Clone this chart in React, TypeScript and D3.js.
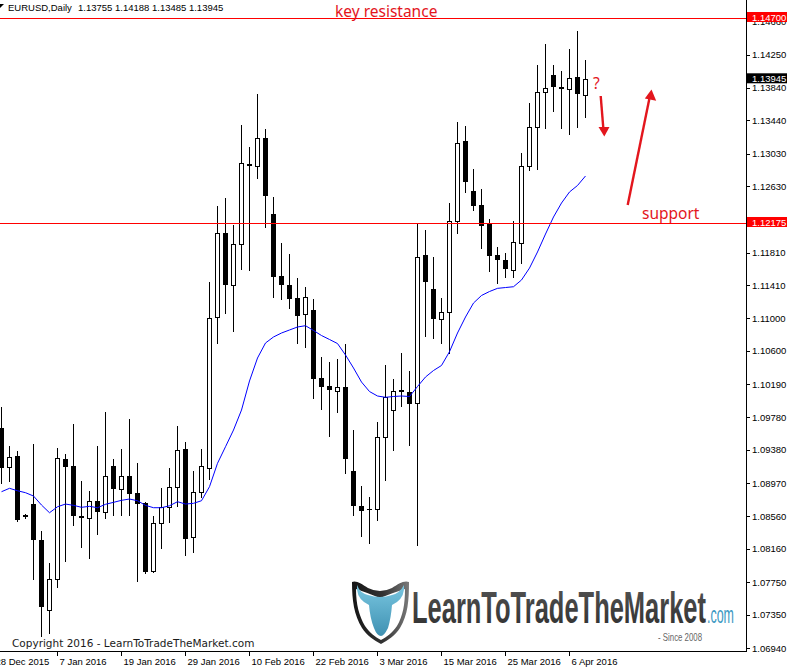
import React, { useLayoutEffect, useRef, useState } from 'react';
import * as d3 from 'd3';

// ---- data (EURUSD daily) ----
const opens = [
  1.09650, 1.09173, 1.09305, 1.08578, 1.08713, 1.08270, 1.07408, 1.07790, 1.09268, 1.09182,
  1.08566, 1.08541, 1.08750, 1.08615, 1.09182, 1.08898, 1.09058, 1.08849, 1.08726, 1.07888,
  1.08479, 1.08677, 1.08923, 1.09391, 1.08307, 1.08861, 1.09157, 1.11017, 1.12052, 1.11411,
  1.11916, 1.12902, 1.12877, 1.13222, 1.12286, 1.11522, 1.11411, 1.11251, 1.11054, 1.11103,
  1.10266, 1.10167, 1.10105, 1.10155, 1.09120, 1.08689, 1.08652, 1.08652, 1.09539, 1.09871,
  1.10118, 1.10093, 1.09958, 1.11781, 1.11362, 1.10992, 1.11079, 1.12199, 1.13185, 1.12569,
  1.12397, 1.12163, 1.11781, 1.11719, 1.11596, 1.11928, 1.12877, 1.13357, 1.13788, 1.13998,
  1.13850, 1.13825, 1.13973, 1.13755,
];
const highs = [
  1.09908, 1.09428, 1.09366, 1.08590, 1.09453, 1.08381, 1.07987, 1.09403, 1.09329, 1.09699,
  1.08997, 1.08874, 1.09428, 1.09847, 1.09268, 1.09391, 1.09760, 1.09219, 1.08738, 1.08566,
  1.08911, 1.09157, 1.09674, 1.09477, 1.09120, 1.09391, 1.11448, 1.12384, 1.12483, 1.12150,
  1.13382, 1.13111, 1.13764, 1.13333, 1.12495, 1.11928, 1.11793, 1.11497, 1.11386, 1.11239,
  1.10524, 1.10463, 1.10500, 1.10684, 1.09625, 1.08935, 1.08800, 1.09724, 1.10426, 1.10253,
  1.10573, 1.10352, 1.12175, 1.12089, 1.11756, 1.11251, 1.12421, 1.13419, 1.13370, 1.12840,
  1.12594, 1.12224, 1.11879, 1.11805, 1.12199, 1.13037, 1.13653, 1.14121, 1.14380, 1.14121,
  1.14047, 1.14318, 1.14540, 1.14188,
];
const lows = [
  1.08972, 1.09000, 1.08504, 1.08541, 1.07790, 1.07088, 1.07124, 1.07691, 1.08011, 1.08455,
  1.08184, 1.08048, 1.08344, 1.08541, 1.08578, 1.08578, 1.08578, 1.07765, 1.07864, 1.07876,
  1.08171, 1.08492, 1.08689, 1.08085, 1.08122, 1.08800, 1.09021, 1.10697, 1.11066, 1.10844,
  1.11608, 1.11596, 1.12729, 1.12126, 1.11263, 1.11239, 1.11128, 1.10697, 1.10647, 1.10019,
  1.09884, 1.09551, 1.09847, 1.09095, 1.08578, 1.08319, 1.08233, 1.08516, 1.09009, 1.09379,
  1.09921, 1.09440, 1.08208, 1.10783, 1.10758, 1.10697, 1.10573, 1.12052, 1.12557, 1.12335,
  1.11867, 1.11584, 1.11436, 1.11510, 1.11510, 1.11682, 1.12828, 1.12840, 1.13345, 1.13554,
  1.13345, 1.13271, 1.13357, 1.13485,
];
const closes = [
  1.09157, 1.09296, 1.08516, 1.08553, 1.08270, 1.07445, 1.07790, 1.09280, 1.09169, 1.08566,
  1.08541, 1.08750, 1.08615, 1.09058, 1.08898, 1.09058, 1.08837, 1.08713, 1.07876, 1.08479,
  1.08677, 1.08923, 1.09379, 1.08282, 1.08861, 1.09182, 1.11005, 1.12052, 1.11411, 1.11916,
  1.12914, 1.12877, 1.13222, 1.12507, 1.11510, 1.11411, 1.11239, 1.11029, 1.11263, 1.10253,
  1.10155, 1.10118, 1.10155, 1.09268, 1.08689, 1.08627, 1.08646, 1.09539, 1.10032, 1.10105,
  1.10093, 1.09945, 1.11756, 1.11448, 1.10992, 1.11079, 1.12199, 1.13160, 1.12680, 1.12384,
  1.12138, 1.11768, 1.11719, 1.11608, 1.11941, 1.12877, 1.13357, 1.13788, 1.13838, 1.13850,
  1.13825, 1.13961, 1.13764, 1.13945,
];
const movingAverage = [
  1.08865, 1.08907, 1.08877, 1.08853, 1.08812, 1.08701, 1.08606, 1.08680, 1.08713, 1.08697,
  1.08673, 1.08685, 1.08668, 1.08710, 1.08734, 1.08759, 1.08775, 1.08754, 1.08697, 1.08668,
  1.08668, 1.08692, 1.08742, 1.08713, 1.08722, 1.08754, 1.08927, 1.09215, 1.09419, 1.09625,
  1.09871, 1.10229, 1.10512, 1.10697, 1.10771, 1.10820, 1.10857, 1.10894, 1.10910, 1.10851,
  1.10789, 1.10740, 1.10690, 1.10549, 1.10389, 1.10216, 1.10099, 1.10044, 1.10028, 1.10038,
  1.10044, 1.10038, 1.10161, 1.10278, 1.10358, 1.10420, 1.10590, 1.10820, 1.11017, 1.11189,
  1.11282, 1.11331, 1.11370, 1.11380, 1.11390, 1.11473, 1.11620, 1.11818, 1.12039, 1.12249,
  1.12421, 1.12557, 1.12637, 1.12754,
];
const priceTicks = [
  1.14660, 1.14250, 1.13840, 1.13440, 1.13030, 1.12630, 1.12220, 1.11810, 1.11410, 1.11000,
  1.10600, 1.10190, 1.09780, 1.09380, 1.08970, 1.08560, 1.08160, 1.07750, 1.07350, 1.06940,
];
const dateLabels = [
  '28 Dec 2015', '7 Jan 2016', '19 Jan 2016', '29 Jan 2016', '10 Feb 2016',
  '22 Feb 2016', '3 Mar 2016', '15 Mar 2016', '25 Mar 2016', '6 Apr 2016',
];
const dateBarIndex = [-1, 7, 15, 23, 31, 39, 47, 55, 63, 71];
const resistanceLevel = 1.147;
const supportLevel = 1.12175;
const lastPrice = 1.13945;
const titleSymbol = 'EURUSD,Daily';
const titleValues = '1.13755 1.14188 1.13485 1.13945';

const AXIS_FONT = "'Liberation Sans', Arial, sans-serif";
const NOTE_FONT = "'Noto Sans', 'Open Sans', sans-serif";
const RED = '#e3161d';

type FitProps = {
  x: number;
  y: number;
  width: number;
  fontSize: number;
  fill: string;
  fontWeight?: string | number;
  fontFamily: string;
  children: string;
};

function FitText({ x, y, width, fontSize, fill, fontWeight, fontFamily, children }: FitProps) {
  const ref = useRef<SVGTextElement>(null);
  const [s, setS] = useState(0.6);
  useLayoutEffect(() => {
    if (ref.current) {
      const w = ref.current.getComputedTextLength();
      if (w > 0) setS(width / w);
    }
  }, [width, children]);
  return (
    <text
      ref={ref}
      x={0}
      y={0}
      transform={`translate(${x},${y}) scale(${s},1)`}
      fontSize={fontSize}
      fontFamily={fontFamily}
      fontWeight={fontWeight}
      fill={fill}
    >
      {children}
    </text>
  );
}

function Logo() {
  return (
    <g>
      <defs>
        <linearGradient id="shieldG" x1="0" x2="1" y1="0" y2="0">
          <stop offset="0" stopColor="#151515" />
          <stop offset="0.55" stopColor="#333" />
          <stop offset="1" stopColor="#7a7a7a" />
        </linearGradient>
        <linearGradient id="headG" x1="0" x2="0" y1="0" y2="1">
          <stop offset="0" stopColor="#79c6e0" />
          <stop offset="1" stopColor="#3f91b2" />
        </linearGradient>
        <linearGradient id="txtG" x1="0" x2="0" y1="0" y2="1">
          <stop offset="0" stopColor="#555" />
          <stop offset="1" stopColor="#2e2e2e" />
        </linearGradient>
      </defs>
      <path
        d="M352,582 C356,580 362,584 368,588 Q380,594 392,588 C398,584 404,580 409,582 C409,600 408,615 400,628 C395,636 388,640 381,644 C374,640 367,636 362,628 C354,615 352,600 352,582 Z"
        fill="url(#shieldG)"
      />
      <path
        d="M356,589 Q368,593 380,598 Q392,593 405,589 C405,604 403,616 397,626 C392,633 387,637 381,640 C375,637 370,633 365,626 C359,616 356,604 356,589 Z"
        fill="#fff"
      />
      <path
        d="M357,585 Q360,593 368,595 Q380,599 392,595 Q400,593 404,585 Q405,596 397,602 L392,605 Q391,618 388,628 Q384,636 381,636 Q377,636 374,628 Q370,618 369,605 L364,602 Q356,596 357,585 Z"
        fill="url(#headG)"
      />
      <FitText
        x={412}
        y={623}
        width={294}
        fontSize={44}
        fontWeight="bold"
        fontFamily="'Liberation Sans', Arial, sans-serif"
        fill="url(#txtG)"
      >
        LearnToTradeTheMarket
      </FitText>
      <FitText
        x={707}
        y={623}
        width={27}
        fontSize={24}
        fontFamily="'Liberation Sans', Arial, sans-serif"
        fill="#3a98c2"
      >
        .com
      </FitText>
      <FitText
        x={658}
        y={641}
        width={44}
        fontSize={10.5}
        fontFamily="'Liberation Sans', Arial, sans-serif"
        fill="#666"
      >
        - Since 2008
      </FitText>
    </g>
  );
}

export default function App() {
  const plotRight = 746;
  const plotBottom = 651;
  const n = opens.length;
  const x = d3.scaleLinear().domain([0, n - 1]).range([1.5, 585.5]);
  const y = d3.scaleLinear().domain([1.0694, 1.147]).range([648, 18]);
  const py = (v: number) => Math.round(y(v));

  const maPath =
    d3
      .line<number>()
      .x((_, i) => x(i))
      .y((v) => y(v))(movingAverage) || '';

  const candles = opens.map((o, i) => {
    const c = closes[i];
    const cx = x(i);
    const yH = py(highs[i]);
    const yL = py(lows[i]);
    const yO = py(o);
    const yC = py(c);
    const top = Math.min(yO, yC);
    const bot = Math.max(yO, yC);
    const bull = c > o;
    return (
      <g key={i}>
        <line x1={cx} x2={cx} y1={yH} y2={yL + 1} stroke="#000" strokeWidth={1} />
        {bull && bot - top >= 2 ? (
          <rect x={cx - 2} y={top + 0.5} width={4} height={bot - top} fill="#fff" stroke="#000" strokeWidth={1} />
        ) : (
          <rect x={cx - 2.5} y={top} width={5} height={Math.max(1, bot - top)} fill="#000" />
        )}
      </g>
    );
  });

  const boxLabel = (v: number, bg: string) => {
    const yv = y(v);
    return (
      <g key={'b' + v}>
        <rect x={747} y={yv - 6} width={40} height={10} fill={bg} />
        <text x={752} y={yv + 3} fontFamily={AXIS_FONT} fontSize={9.5} fill="#fff">
          {v.toFixed(5)}
        </text>
      </g>
    );
  };

  const resY = Math.round(y(resistanceLevel)) + 0.5;
  const supY = Math.round(y(supportLevel)) + 0.5;

  return (
    <svg
      width={787}
      height={671}
      style={{ position: 'absolute', left: 0, top: 0, background: '#fff' }}
      xmlns="http://www.w3.org/2000/svg"
    >
      <defs>
        <clipPath id="plot">
          <rect x={0} y={0} width={plotRight} height={plotBottom} />
        </clipPath>
      </defs>
      <rect x={0} y={0} width={787} height={671} fill="#fff" />

      {/* title */}
      <path d="M0,4 L4,4 L0,8 Z" fill="#000" />
      <text x={8} y={11} fontFamily={AXIS_FONT} fontSize={9.5} fill="#000">
        {titleSymbol}
      </text>
      <text x={78} y={11} fontFamily={AXIS_FONT} fontSize={9.5} fill="#000">
        {titleValues}
      </text>

      <Logo />

      <g clipPath="url(#plot)">
        {candles}
        <path d={maPath} fill="none" stroke="#0000ff" strokeWidth={1} />
      </g>

      {/* horizontal levels */}
      <line x1={0} x2={plotRight + 4} y1={resY} y2={resY} stroke="#ff0000" strokeWidth={1} />
      <line x1={0} x2={plotRight + 4} y1={supY} y2={supY} stroke="#ff0000" strokeWidth={1} />

      {/* axes */}
      <line x1={plotRight + 0.5} x2={plotRight + 0.5} y1={0} y2={plotBottom + 1} stroke="#000" />
      <line x1={0} x2={plotRight + 1} y1={plotBottom + 0.5} y2={plotBottom + 0.5} stroke="#000" />

      {priceTicks.map((t) => {
        const yy = Math.round(y(t)) + 0.5;
        return (
          <g key={t}>
            <line x1={plotRight} x2={plotRight + 4} y1={yy} y2={yy} stroke="#000" />
            <text x={752} y={y(t) + 3.5} fontFamily={AXIS_FONT} fontSize={9.5} fill="#000">
              {t.toFixed(5)}
            </text>
          </g>
        );
      })}
      {boxLabel(resistanceLevel, '#ff0000')}
      {boxLabel(supportLevel, '#ff0000')}
      {boxLabel(lastPrice, '#000')}

      {dateLabels.map((d, k) => {
        const xx = x(dateBarIndex[k]);
        return (
          <g key={d}>
            <line x1={xx} x2={xx} y1={plotBottom} y2={plotBottom + 5} stroke="#000" />
            <text x={xx + 2} y={665} fontFamily={AXIS_FONT} fontSize={9.5} fill="#000">
              {d}
            </text>
          </g>
        );
      })}

      {/* annotations */}
      <text x={335} y={17} fontFamily={NOTE_FONT} fontSize={15.5} fill={RED}>
        key resistance
      </text>
      <text x={642} y={218.5} fontFamily={NOTE_FONT} fontSize={15.5} fill={RED}>
        support
      </text>
      <text x={593} y={89} fontFamily={NOTE_FONT} fontSize={15.5} fill={RED}>
        ?
      </text>
      <line x1={600.7} y1={96} x2={603.3} y2={128} stroke={RED} strokeWidth={2.4} />
      <path d="M598.5,127 L609.5,127 L604.3,136.5 Z" fill={RED} />
      <line x1={627.7} y1={205} x2={649.3} y2={99} stroke={RED} strokeWidth={2.4} />
      <path d="M644.8,98.5 L656.2,100.8 L651.5,89.5 Z" fill={RED} />

      <text x={12} y={647} fontFamily="'DejaVu Sans', sans-serif" fontSize={10.5} fill="#1a1a1a">
        Copyright 2016 - LearnToTradeTheMarket.com
      </text>
    </svg>
  );
}
